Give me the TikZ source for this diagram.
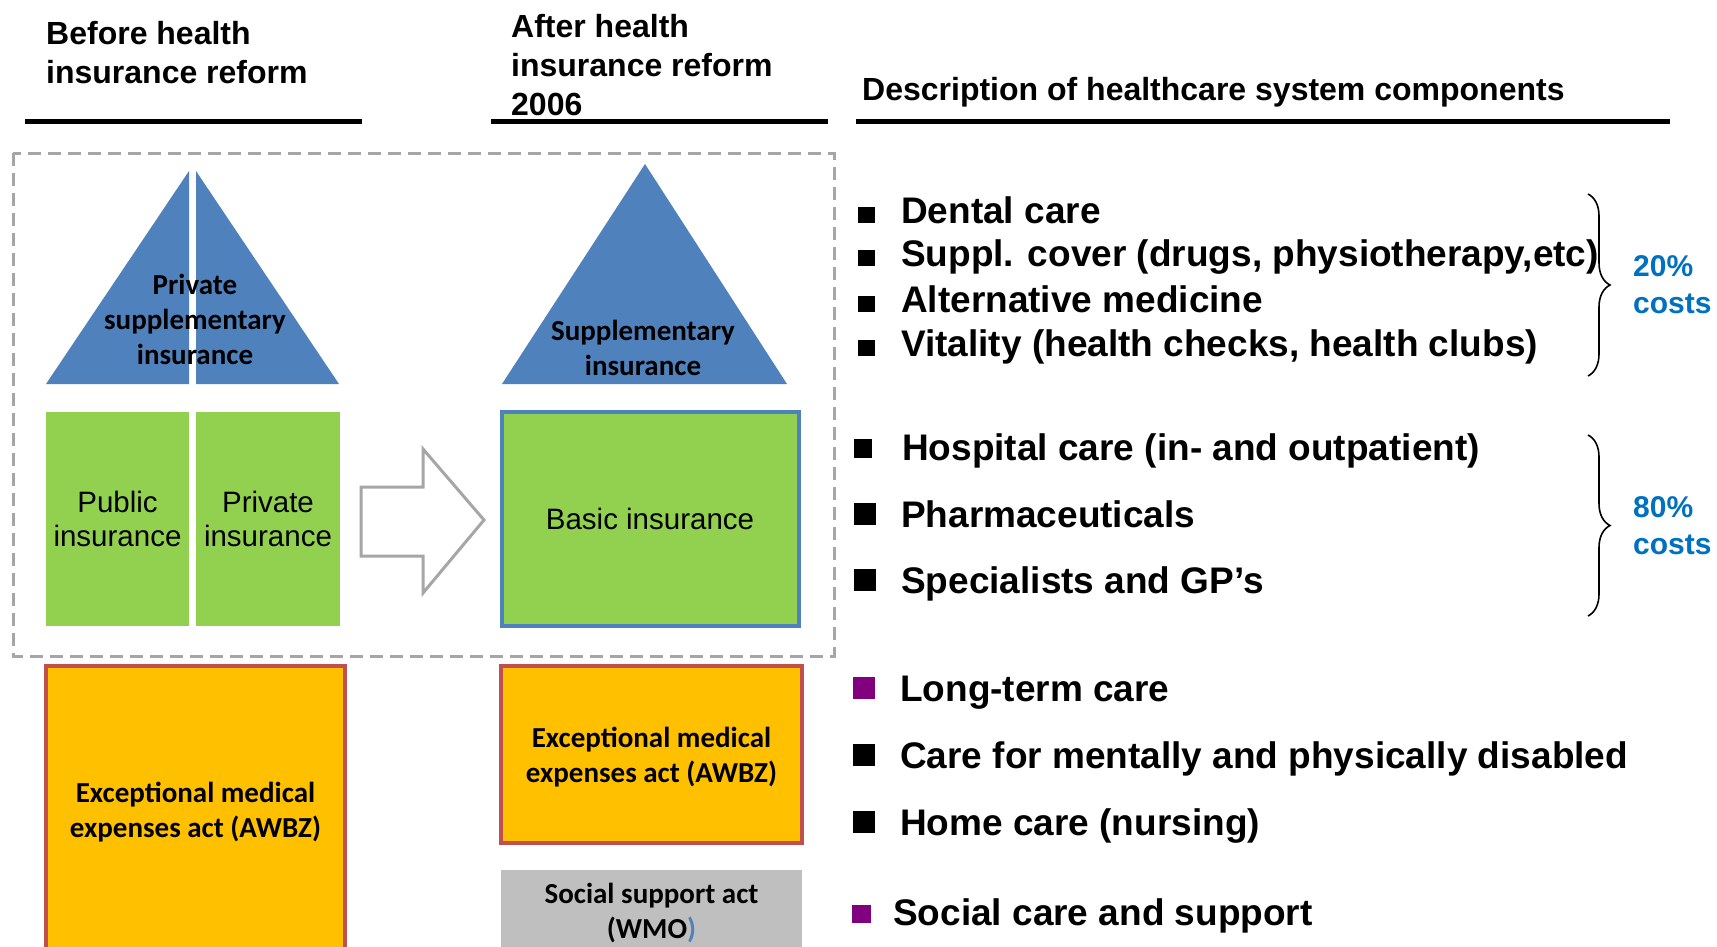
\documentclass[tikz,border=0pt]{standalone}
\usepackage{fontspec}
\setmainfont{Liberation Sans}
\newfontfamily\carl{Carlito}
\usetikzlibrary{decorations.pathreplacing}
\definecolor{triblue}{RGB}{79,129,189}
\definecolor{boxgreen}{RGB}{146,208,80}
\definecolor{boxorange}{RGB}{255,192,0}
\definecolor{boxred}{RGB}{192,80,77}
\definecolor{boxgrey}{RGB}{191,191,191}
\definecolor{dashgrey}{RGB}{166,166,166}
\definecolor{bulpurple}{RGB}{128,0,128}
\definecolor{costblue}{RGB}{0,112,192}
\begin{document}
\begin{tikzpicture}[x=1pt,y=-1pt,
  hdr/.style={font=\fontsize{32}{39}\selectfont\bfseries, align=left, inner sep=0pt, anchor=north west},
  hline/.style={line width=5pt},
  item/.style={font=\fontsize{37}{44}\selectfont\bfseries, anchor=base west, inner sep=0pt},
  cost/.style={font=\fontsize{30}{37}\selectfont\bfseries, text=costblue, align=left, inner sep=0pt, anchor=north west},
  blab/.style={font=\carl\fontsize{29}{35}\selectfont\bfseries, align=center, inner sep=0pt},
  rlab/.style={font=\fontsize{29.5}{34}\selectfont, align=center, inner sep=0pt},
  gbox/.style={fill=boxgreen, minimum height=214pt, inner sep=0pt},
  obox/.style={fill=boxorange, draw=boxred, line width=4pt, inner sep=0pt},
  bul/.style={fill=black, inner sep=0pt},
  pbul/.style={fill=bulpurple, inner sep=0pt},
  br/.style={decorate, decoration={brace, amplitude=22pt}, line width=1.6pt}
]
\useasboundingbox (0,0) rectangle (1717,946);
\fill[white] (0,0) rectangle (1717,946);

% headers
\node[hdr] (h1) at (46,21) {Before health\\insurance reform};
\node[hdr] (h2) at (511,14) {After health\\insurance reform\\2006};
\node[hdr] (h3) at (862,77) {Description of healthcare system components};
\draw[hline] (25,121) -- (362,121);
\draw[hline] (491,121) -- (828,121);
\draw[hline] (856,121) -- (1670,121);

% dashed frame
\draw[dashgrey, line width=3pt, dash pattern=on 13pt off 7pt] (13,153) rectangle (834,656);

% triangles
\fill[triblue] (46,384) -- (189,171) -- (189,384) -- cycle;
\fill[triblue] (196,171) -- (339,384) -- (196,384) -- cycle;
\fill[triblue] (502,384) -- (645,164) -- (787,384) -- cycle;
\node[blab] (t1) at (195,319) {Private\\supplementary\\insurance};
\node[blab] (t2) at (643,348) {Supplementary\\insurance};

% green boxes
\node[gbox, minimum width=143pt, rlab] (pub) at (117.5,519) {Public\\insurance};
\node[gbox, minimum width=144pt, rlab] (priv) at (268,519) {Private\\insurance};
\node[gbox, draw=triblue, line width=4pt, minimum width=297pt, minimum height=214pt, rlab] (basic) at (650,519) {Basic insurance};

% arrow
\draw[dashgrey, line width=3pt, fill=white, line join=miter]
  (361,487) -- (423,487) -- (423,449) -- (484,520) -- (423,593) -- (423,556) -- (361,556) -- cycle;

% orange / grey boxes
\node[obox, minimum width=299pt, minimum height=289pt] (awbz1) at (195.5,810.5) {};
\node[blab] (awbz1t) at ([yshift=-2pt]awbz1.center) {Exceptional medical\\expenses act (AWBZ)};
\node[obox, minimum width=301pt, minimum height=177pt] (awbz2) at (651.5,754.5) {};
\node[blab] (awbz2t) at ([yshift=-3pt]awbz2.center) {Exceptional medical\\expenses act (AWBZ)};
\node[fill=boxgrey, minimum width=301pt, minimum height=86pt, blab] (wmo) at (651.5,913) {Social support act\\(WMO\textcolor{triblue}{)}};

% list group 1
\node[bul, minimum width=17pt, minimum height=16pt] (b1) at (866,215) {};
\node[item] (i1) at (901,223) {Dental care};
\node[bul, minimum width=17pt, minimum height=16pt] (b2) at (866,258) {};
\node[item] (i2) at (901,266) {Suppl. cover (drugs, physiotherapy,etc)};
\node[bul, minimum width=17pt, minimum height=16pt] (b3) at (866,304) {};
\node[item] (i3) at (901,312) {Alternative medicine};
\node[bul, minimum width=17pt, minimum height=16pt] (b4) at (866,348) {};
\node[item] (i4) at (901,356) {Vitality (health checks, health clubs)};

% list group 2
\node[bul, minimum width=18pt, minimum height=19pt] (b5) at (863,448.5) {};
\node[item] (i5) at (902,460) {Hospital care (in- and outpatient)};
\node[bul, minimum width=22pt, minimum height=22pt] (b6) at (865,514) {};
\node[item] (i6) at (901,527) {Pharmaceuticals};
\node[bul, minimum width=22pt, minimum height=22pt] (b7) at (865,580) {};
\node[item] (i7) at (901,593) {Specialists and GP’s};

% list group 3
\node[pbul, minimum width=22pt, minimum height=22pt] (b8) at (863.5,688) {};
\node[item] (i8) at (900,701) {Long-term care};
\node[bul, minimum width=22pt, minimum height=22pt] (b9) at (863.5,755) {};
\node[item] (i9) at (900,768) {Care for mentally and physically disabled};
\node[bul, minimum width=22pt, minimum height=22pt] (b10) at (863.5,822) {};
\node[item] (i10) at (900,835) {Home care (nursing)};
\node[pbul, minimum width=19pt, minimum height=18pt] (b11) at (861.5,914) {};
\node[item] (i11) at (893,925) {Social care and support};

% braces and costs
\coordinate (br1t) at (1588,194);
\coordinate (br1b) at (1588,376);
\coordinate (br2t) at (1588,435);
\coordinate (br2b) at (1588,616);
\draw[br] (br1t) -- (br1b);
\draw[br] (br2t) -- (br2b);
\node[cost] (c1) at (1633,255) {20\%\\costs};
\node[cost] (c2) at (1633,496) {80\%\\costs};
\end{tikzpicture}
\end{document}
